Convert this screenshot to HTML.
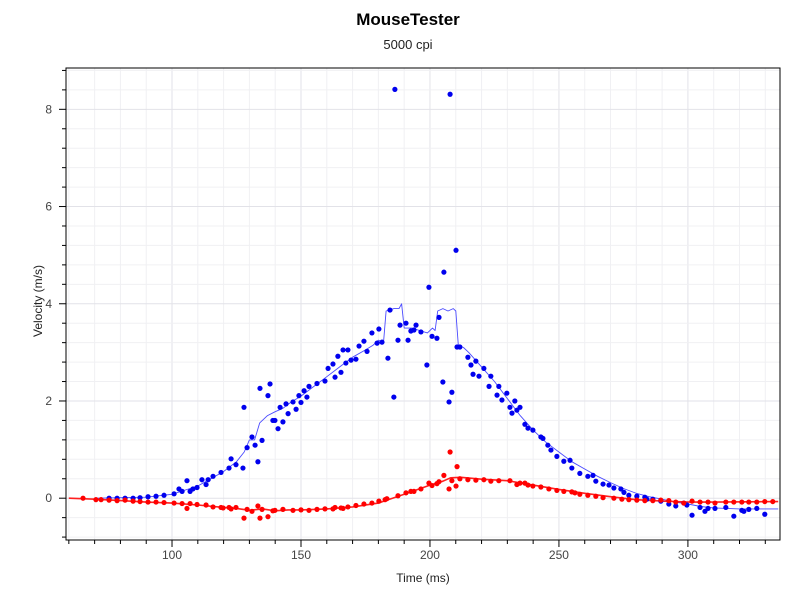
<!DOCTYPE html>
<html><head><meta charset="utf-8"><style>
body{margin:0;background:#fff;font-family:"Liberation Sans",sans-serif}
svg text{font-family:"Liberation Sans",sans-serif}
</style></head><body>
<svg id="c" width="800" height="600" xmlns="http://www.w3.org/2000/svg"></svg>
<script>
const xTicks=[100,150,200,250,300];
const yTicks=[0,2,4,6,8];
const blueT=[75.6,78.7,81.8,84.9,87.6,90.7,93.8,96.9,100.8,102.7,103.9,105.8,107,108.1,109.7,111.6,113.2,114,115.9,119,122.1,122.9,124.8,127.5,127.9,129.1,131,132.2,133.3,134.1,134.9,137.2,138,139.1,139.9,141.1,141.9,143,144.2,145,146.9,148.1,149.2,150,151.2,152.3,153.1,156.2,159.3,160.5,162.4,163.2,164.3,165.5,166.3,167.4,168.2,169.4,171.3,172.5,174.4,175.6,177.5,179.5,180.2,181.4,183.7,184.5,186,186.4,187.6,188.4,190.7,191.5,192.6,193.8,194.6,196.5,198.8,199.6,200.8,202.7,203.5,205,205.4,207.4,207.8,208.5,210.1,210.5,211.6,214.7,215.9,216.7,217.8,219,220.9,222.9,223.6,226,226.7,227.9,229.8,231,231.8,232.9,233.7,234.9,236.8,238,239.9,243,243.8,245.7,246.9,249.2,251.9,254.3,255,258.1,261.2,263.2,264.3,267.1,269.4,271.3,274,275.2,277.1,280.2,283.3,284.1,286.4,289.5,292.6,295.3,298.4,299.6,301.6,304.7,306.6,307.8,310.5,314.7,317.8,320.9,321.7,323.6,326.7,329.8,332.6,334.9];
const blueV=[0,0,0,0,0.01,0.03,0.04,0.06,0.09,0.19,0.14,0.36,0.14,0.19,0.22,0.38,0.28,0.38,0.45,0.53,0.62,0.81,0.69,0.62,1.87,1.04,1.26,1.09,0.75,2.26,1.19,2.11,2.35,1.6,1.6,1.43,1.87,1.57,1.94,1.74,1.98,1.83,2.11,1.97,2.21,2.08,2.3,2.36,2.41,2.67,2.76,2.49,2.92,2.59,3.05,2.78,3.05,2.84,2.86,3.13,3.23,3.02,3.4,3.19,3.48,3.21,2.88,3.87,2.08,8.41,3.25,3.56,3.6,3.25,3.44,3.46,3.56,3.42,2.74,4.34,3.33,3.29,3.72,2.39,4.65,1.98,8.31,2.18,5.1,3.11,3.11,2.9,2.74,2.55,2.82,2.51,2.67,2.3,2.51,2.12,2.3,2.02,2.16,1.87,1.75,2.0,1.81,1.87,1.52,1.44,1.4,1.26,1.23,1.09,0.99,0.86,0.76,0.78,0.62,0.51,0.45,0.47,0.35,0.29,0.27,0.21,0.19,0.12,0.06,0.04,0.02,-0.02,-0.02,-0.06,-0.12,-0.16,-0.1,-0.14,-0.35,-0.19,-0.27,-0.21,-0.21,-0.19,-0.37,-0.25,-0.27,-0.23,-0.21,-0.33];
const blueLineT=[70,90,100,110,115,120,125,128,130,132,134,137,140,143,146,150,155,160,165,170,175,178,180,182,183,186,188,189,190,193,196,199,201,202,203,205,207,209,210,211,213,215,220,225,230,235,240,245,250,255,260,265,270,275,280,285,290,295,300,305,310,320,335];
const blueLineV=[0,0.02,0.08,0.25,0.4,0.55,0.75,0.95,1.2,1.2,1.55,1.7,1.78,1.85,1.97,2.1,2.3,2.5,2.7,2.9,3.05,3.15,3.25,3.2,3.85,3.9,3.9,4.0,3.5,3.5,3.45,3.4,3.5,3.45,3.85,3.9,3.85,3.9,3.85,3.15,3.1,3.0,2.7,2.4,2.05,1.7,1.4,1.15,0.95,0.75,0.6,0.45,0.32,0.2,0.1,0.03,-0.02,-0.08,-0.12,-0.17,-0.2,-0.22,-0.22];
const redT=[65.5,70.5,72.5,75.6,78.7,81.8,84.9,87.6,90.7,93.8,96.9,100.8,103.9,105.8,107,109.7,113.2,115.9,119,119.8,122.1,122.9,124.8,127.9,129.1,131,133.3,134.1,134.9,137.2,139.1,139.9,143,146.9,150,153.1,156.2,159.3,162.4,163.2,165.5,166.3,168.2,171.3,174.4,177.5,180.2,182.6,183.3,187.6,190.7,192.6,193.8,196.5,199.6,200.8,202.7,203.5,205.4,207.4,207.8,208.5,210.1,210.5,211.6,214.7,217.8,220.9,223.6,226.7,231,233.7,234.9,236.8,238,239.9,243,246.1,249.2,251.9,255,256.2,258.1,261.2,264.3,267.1,271.3,274.4,277.1,280.2,283.3,286.4,289.5,292.6,295.3,298.4,301.6,304.7,307.8,310.5,314.7,317.8,320.9,323.6,326.7,329.8,332.9];
const redV=[0,-0.03,-0.03,-0.04,-0.05,-0.04,-0.06,-0.07,-0.08,-0.08,-0.09,-0.1,-0.11,-0.21,-0.11,-0.13,-0.14,-0.18,-0.19,-0.2,-0.19,-0.22,-0.19,-0.41,-0.23,-0.27,-0.16,-0.41,-0.23,-0.38,-0.26,-0.25,-0.23,-0.25,-0.24,-0.25,-0.23,-0.22,-0.22,-0.19,-0.2,-0.21,-0.18,-0.15,-0.12,-0.1,-0.06,-0.03,-0.01,0.05,0.11,0.14,0.14,0.19,0.31,0.26,0.3,0.34,0.47,0.19,0.95,0.36,0.25,0.65,0.4,0.38,0.37,0.38,0.35,0.36,0.36,0.28,0.31,0.31,0.27,0.25,0.23,0.19,0.16,0.14,0.13,0.11,0.08,0.06,0.04,0.01,0.0,-0.02,-0.03,-0.04,-0.05,-0.05,-0.04,-0.05,-0.08,-0.1,-0.06,-0.08,-0.08,-0.1,-0.08,-0.08,-0.08,-0.08,-0.08,-0.07,-0.07];
const redLineT=[60,70,80,90,100,110,120,125,130,135,140,145,150,160,170,180,190,200,205,208,212,220,230,240,250,260,270,280,290,300,310,335];
const redLineV=[0,-0.02,-0.05,-0.08,-0.1,-0.14,-0.19,-0.21,-0.25,-0.22,-0.26,-0.24,-0.24,-0.22,-0.18,-0.1,0.08,0.27,0.35,0.42,0.43,0.39,0.36,0.27,0.18,0.1,0.03,-0.03,-0.06,-0.08,-0.08,-0.07];

const L=66,R=780,T=68,B=540,X0=58.9,X1=335.7,Y0=-0.86,Y1=8.85;
const sx=t=>L+(t-X0)/(X1-X0)*(R-L);
const sy=v=>B-(v-Y0)/(Y1-Y0)*(B-T);
const svg=document.getElementById('c');const NS='http://www.w3.org/2000/svg';
function mk(tag,attrs,parent){const e=document.createElementNS(NS,tag);for(const k in attrs)e.setAttribute(k,attrs[k]);(parent||svg).appendChild(e);return e;}
const grid=mk('g',{});


for(let t=60;t<=X1;t+=10){const x=sx(t);mk('line',{x1:x,x2:x,y1:T,y2:B,stroke:t%50==0?'#e2e2e8':'#f0f0f3','stroke-width':1},grid);
 const tk=mk('line',{x1:x,x2:x,y1:B,y2:B+(t%50==0?7:4),stroke:'#000'});
 
 }
for(let i=-2;i<=22;i++){const v=i*0.4;if(v<Y0||v>Y1)continue;const y=sy(v);const major=i%5==0;
 mk('line',{x1:L,x2:R,y1:y,y2:y,stroke:major?'#e2e2e8':'#f0f0f3','stroke-width':1},grid);
 const tk=mk('line',{x1:L-(major?7:4),x2:L,y1:y,y2:y,stroke:'#000'});
 
 }
mk('rect',{x:L,y:T,width:R-L,height:B-T,fill:'none',stroke:'#000','stroke-width':1});
xTicks.forEach(t=>{const e=mk('text',{x:sx(t),y:B+19,'font-size':12,fill:'#444','text-anchor':'middle'});e.textContent=t;
 
 });
yTicks.forEach(v=>{const e=mk('text',{x:L-14,y:sy(v)+4,'font-size':12,fill:'#444','text-anchor':'end'});e.textContent=v;
 
 });
function line(ts,vs,col,w,name){const n=Math.min(ts.length,vs.length);const d=ts.slice(0,n).map((t,i)=>(i?'L':'M')+sx(t).toFixed(1)+','+sy(vs[i]).toFixed(1)).join('');
 const p=mk('path',{d:d,fill:'none',stroke:col,'stroke-width':w,'stroke-linejoin':'round'});
 
 }
function pts(ts,vs,col,name){const g=mk('g',{fill:col});
 
 
 const n=Math.min(ts.length,vs.length);
 for(let i=0;i<n;i++){const x=sx(ts[i]),y=sy(vs[i]);if(!isFinite(x)||!isFinite(y)||x<L||x>R+2)continue;mk('circle',{cx:x,cy:y,r:2.6},g);}}
line(blueLineT,blueLineV,'#4a4aff',0.9,'blue-smoothed-line');
line(redLineT,redLineV,'#ff2020',1.6,'red-smoothed-line');
pts(blueT,blueV,'#0000ee','blue-points');
pts(redT,redV,'#ff0000','red-points');
</script>
<div style="position:absolute;left:0;top:0;width:800px;height:600px;pointer-events:none">
<div style="position:absolute;left:0;width:816px;top:10px;text-align:center;font-weight:bold;font-size:17px;color:#000">MouseTester</div>
<div style="position:absolute;left:0;width:816px;top:37px;text-align:center;font-size:13px;color:#222">5000 cpi</div>
<div style="position:absolute;left:66px;width:714px;top:571px;text-align:center;font-size:12px;color:#222">Time (ms)</div>
<div style="position:absolute;left:-12px;top:294px;width:100px;text-align:center;font-size:12px;color:#222;transform:rotate(-90deg)">Velocity (m/s)</div>
</div>
</body></html>
